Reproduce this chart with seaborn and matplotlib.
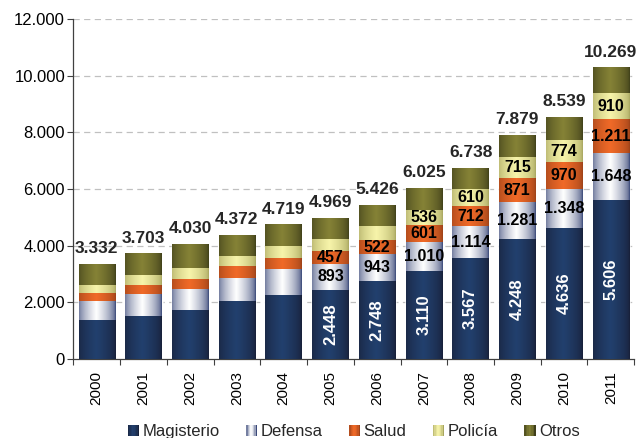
import numpy as np
import pandas as pd
import matplotlib
matplotlib.use("Agg")
import matplotlib.pyplot as plt
import seaborn as sns
from matplotlib.colors import to_rgb
from matplotlib.patches import Patch, Rectangle
from matplotlib.legend_handler import HandlerBase

# Pensioners by sector, 2000-2011
years = [2000, 2001, 2002, 2003, 2004, 2005, 2006, 2007, 2008, 2009, 2010, 2011]
magisterio = [1384, 1526, 1740, 2059, 2272, 2448, 2748, 3110, 3567, 4248, 4636, 5606]
defensa = [675, 757, 745, 816, 887, 893, 943, 1010, 1114, 1281, 1348, 1648]
salud = [260, 319, 355, 391, 391, 457, 522, 601, 712, 871, 970, 1211]
policia = [285, 355, 355, 366, 426, 430, 475, 536, 610, 715, 774, 910]
otros = [728, 746, 835, 740, 743, 741, 738, 768, 735, 764, 811, 894]
totales = [3332, 3703, 4030, 4372, 4719, 4969, 5426, 6025, 6738, 7879, 8539, 10269]

series_names = ["Magisterio", "Defensa", "Salud", "Policía", "Otros"]
series_values = [magisterio, defensa, salud, policia, otros]
# first index from which each segment carries a value label (None = no labels)
label_from = [5, 5, 5, 7, None]

# (edge colour, centre colour) of the cylindrical shading of each segment
shades = {
    "Magisterio": ("#182038", "#22406e"),
    "Defensa": ("#3a4878", "#ffffff"),
    "Salud": ("#9c4219", "#f06a28"),
    "Policía": ("#a8a660", "#f7f4aa"),
    "Otros": ("#3f3f1a", "#858236"),
}


def fmt(v):
    return f"{v:,.0f}".replace(",", ".")


def gradient(name, n=64):
    edge, centre = (np.array(to_rgb(c)) for c in shades[name])
    x = np.linspace(0, 1, n)
    w = (1 - np.abs((x - 0.47) / 0.53).clip(0, 1)) ** 0.55
    return (edge[None, :] * (1 - w[:, None]) + centre[None, :] * w[:, None])


class GradientHandler(HandlerBase):
    def __init__(self, cols):
        super().__init__()
        self.cols = cols

    def create_artists(self, legend, orig_handle, xdescent, ydescent,
                       width, height, fontsize, trans):
        n = len(self.cols)
        arts = []
        for k, c in enumerate(self.cols):
            arts.append(Rectangle((-xdescent + k * width / n, -ydescent),
                                  width / n + 0.05, height, facecolor=c,
                                  edgecolor="none", transform=trans))
        return arts


sns.set_theme(style="white")
plt.rcParams["font.family"] = ["Liberation Sans", "DejaVu Sans"]

df = pd.DataFrame({"Año": [str(y) for y in years]})
bottoms, tops = {}, {}
cum = np.zeros(len(years))
for name, vals in zip(series_names, series_values):
    bottoms[name] = cum.copy()
    cum = cum + np.array(vals)
    tops[name] = cum.copy()
    df[name] = tops[name]

fig = plt.figure(figsize=(6.38, 4.38), dpi=100)
ax = fig.add_axes([0.115, 0.1804, 0.879, 0.7762])

# stacked bars: cumulative heights drawn from the top layer downwards
containers = {}
for name in reversed(series_names):
    sns.barplot(data=df, x="Año", y=name, color=shades[name][1],
                saturation=1, width=0.78, errorbar=None, ax=ax, zorder=2)
    containers[name] = ax.containers[-1]

# shaded fill of each segment
for name in series_names:
    img = gradient(name)[None, :, :]
    for i, bar in enumerate(containers[name]):
        x0 = bar.get_x()
        x1 = x0 + bar.get_width()
        ax.imshow(img, extent=(x0, x1, bottoms[name][i], tops[name][i]),
                  aspect="auto", interpolation="bilinear", zorder=3)

ax.set_xlim(-0.5, len(years) - 0.5)
ax.set_ylim(0, 12000)

# segment value labels
for name, vals, start in zip(series_names, series_values, label_from):
    if start is None:
        continue
    for i in range(start, len(years)):
        yc = (bottoms[name][i] + tops[name][i]) / 2
        if name == "Magisterio":
            ax.text(i, yc, fmt(vals[i]), ha="center", va="center", rotation=90,
                    color="white", fontsize=12, fontweight="bold", zorder=5)
        else:
            ax.text(i, yc, fmt(vals[i]), ha="center", va="center",
                    color="black", fontsize=11.5, fontweight="bold", zorder=5)

# totals above the bars
for i, t in enumerate(totales):
    ax.annotate(fmt(t), (i, t), xytext=(0, 6), textcoords="offset points",
                ha="center", va="bottom", fontsize=12.5, fontweight="bold",
                zorder=5)

# axes styling
ax.set_xlabel("")
ax.set_ylabel("")
yt = np.arange(0, 12001, 2000)
ax.set_yticks(yt, [fmt(v) for v in yt])
ax.set_xticks(range(len(years)), [str(y) for y in years], rotation=90)
ax.set_xticks(np.arange(-0.5, len(years)), minor=True)
ax.tick_params(axis="x", which="major", length=0, pad=9, labelsize=11,
               colors="black")
ax.tick_params(axis="x", which="minor", length=4, width=0.8, color="#404040",
               bottom=True)
ax.tick_params(axis="y", length=4, width=0.8, color="#404040", pad=2,
               labelsize=12, left=True, labelcolor="black")
for v in yt[1:]:
    ax.axhline(v, color="#c0c0c0", linewidth=0.9, linestyle=(0, (5, 3.5)),
               zorder=1)
for s in ["top", "right"]:
    ax.spines[s].set_visible(False)
for s in ["left", "bottom"]:
    ax.spines[s].set_color("#404040")
    ax.spines[s].set_linewidth(0.9)
ax.set_facecolor("white")

# legend with shaded swatches
handles, hmap = [], {}
for name in series_names:
    h = Patch(label=name)
    g = gradient(name, n=8)
    hmap[h] = GradientHandler([tuple(c) for c in g])
    handles.append(h)
ax.legend(handles=handles, handler_map=hmap, loc="center",
          bbox_to_anchor=(0.5, -0.214), ncol=5, frameon=False, fontsize=12,
          handlelength=0.66, handleheight=0.66, handletextpad=0.2,
          columnspacing=1.6)

fig.savefig("out.png", dpi=100, facecolor="white")
